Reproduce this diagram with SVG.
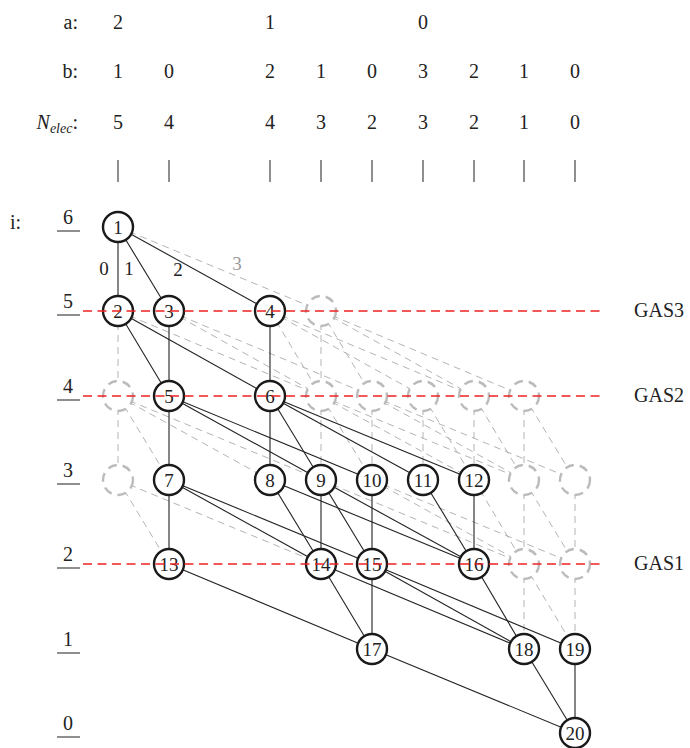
<svg xmlns="http://www.w3.org/2000/svg" width="690" height="748" viewBox="0 0 690 748">
  <style>
    text { font-family: "Liberation Serif", "DejaVu Serif", serif; font-size: 20px; fill: #222; }
    .c { text-anchor: middle; }
    .e { text-anchor: end; }
    .node { fill: #fff; stroke: #1a1a1a; stroke-width: 2.4; }
    .ghost { fill: #fff; stroke: #bbb; stroke-width: 2.4; stroke-dasharray: 9 6; }
    .arc { stroke: #222; stroke-width: 1.1; fill: none; }
    .garc { stroke: #b4b4b4; stroke-width: 1; fill: none; stroke-dasharray: 7 5; }
    .gas { stroke: #ee2222; stroke-width: 1.4; stroke-dasharray: 9 5.5; fill: none; }
    .tick { stroke: #444; stroke-width: 1.2; }
    .num { font-size: 19px; text-anchor: middle; }
  </style>

  <g font-family="'Liberation Serif', 'DejaVu Serif', serif">
  <!-- column header: a, b and electron count per column -->
  <g id="header">
    <text class="e" x="78" y="29">a:</text>
    <text class="e" x="78" y="78">b:</text>
    <text class="e" x="78" y="129"><tspan font-style="italic">N</tspan><tspan font-style="italic" font-size="14" dy="4">elec</tspan><tspan dy="-4">:</tspan></text>
    <text class="c" x="118" y="29">2</text>
    <text class="c" x="270" y="29">1</text>
    <text class="c" x="423" y="29">0</text>
    <text class="c" x="118" y="78">1</text>
    <text class="c" x="169" y="78">0</text>
    <text class="c" x="270" y="78">2</text>
    <text class="c" x="321" y="78">1</text>
    <text class="c" x="372" y="78">0</text>
    <text class="c" x="423" y="78">3</text>
    <text class="c" x="474" y="78">2</text>
    <text class="c" x="524" y="78">1</text>
    <text class="c" x="575" y="78">0</text>
    <text class="c" x="118" y="129">5</text>
    <text class="c" x="169" y="129">4</text>
    <text class="c" x="270" y="129">4</text>
    <text class="c" x="321" y="129">3</text>
    <text class="c" x="372" y="129">2</text>
    <text class="c" x="423" y="129">3</text>
    <text class="c" x="474" y="129">2</text>
    <text class="c" x="524" y="129">1</text>
    <text class="c" x="575" y="129">0</text>
    <g class="tick">
      <line x1="118" y1="160" x2="118" y2="182"/>
      <line x1="169" y1="160" x2="169" y2="182"/>
      <line x1="270" y1="160" x2="270" y2="182"/>
      <line x1="321" y1="160" x2="321" y2="182"/>
      <line x1="372" y1="160" x2="372" y2="182"/>
      <line x1="423" y1="160" x2="423" y2="182"/>
      <line x1="474" y1="160" x2="474" y2="182"/>
      <line x1="524" y1="160" x2="524" y2="182"/>
      <line x1="575" y1="160" x2="575" y2="182"/>
    </g>
  </g>

  <!-- orbital level labels -->
  <g id="levels">
    <text x="10" y="229">i:</text>
    <text class="c" x="68" y="224">6</text>
    <text class="c" x="68" y="308">5</text>
    <text class="c" x="68" y="393">4</text>
    <text class="c" x="68" y="477">3</text>
    <text class="c" x="68" y="561">2</text>
    <text class="c" x="68" y="646">1</text>
    <text class="c" x="68" y="730">0</text>
    <g class="tick">
      <line x1="57" y1="231" x2="80" y2="231"/>
      <line x1="57" y1="315" x2="80" y2="315"/>
      <line x1="57" y1="400" x2="80" y2="400"/>
      <line x1="57" y1="484" x2="80" y2="484"/>
      <line x1="57" y1="568" x2="80" y2="568"/>
      <line x1="57" y1="653" x2="80" y2="653"/>
      <line x1="57" y1="737" x2="80" y2="737"/>
    </g>
  </g>

  <g id="connectors">
    <!-- arcs touching excluded vertices -->
    <g class="garc">
      <line x1="118" y1="227" x2="321" y2="311"/>
      <line x1="118" y1="311" x2="118" y2="396"/>
      <line x1="118" y1="311" x2="321" y2="396"/>
      <line x1="169" y1="311" x2="321" y2="396"/>
      <line x1="169" y1="311" x2="372" y2="396"/>
      <line x1="270" y1="311" x2="321" y2="396"/>
      <line x1="270" y1="311" x2="423" y2="396"/>
      <line x1="270" y1="311" x2="474" y2="396"/>
      <line x1="321" y1="311" x2="321" y2="396"/>
      <line x1="321" y1="311" x2="372" y2="396"/>
      <line x1="321" y1="311" x2="474" y2="396"/>
      <line x1="321" y1="311" x2="524" y2="396"/>
      <line x1="118" y1="396" x2="118" y2="480"/>
      <line x1="118" y1="396" x2="169" y2="480"/>
      <line x1="118" y1="396" x2="270" y2="480"/>
      <line x1="118" y1="396" x2="321" y2="480"/>
      <line x1="321" y1="396" x2="321" y2="480"/>
      <line x1="321" y1="396" x2="372" y2="480"/>
      <line x1="321" y1="396" x2="474" y2="480"/>
      <line x1="321" y1="396" x2="524" y2="480"/>
      <line x1="372" y1="396" x2="372" y2="480"/>
      <line x1="372" y1="396" x2="524" y2="480"/>
      <line x1="372" y1="396" x2="575" y2="480"/>
      <line x1="423" y1="396" x2="423" y2="480"/>
      <line x1="423" y1="396" x2="474" y2="480"/>
      <line x1="474" y1="396" x2="474" y2="480"/>
      <line x1="474" y1="396" x2="524" y2="480"/>
      <line x1="524" y1="396" x2="524" y2="480"/>
      <line x1="524" y1="396" x2="575" y2="480"/>
      <line x1="118" y1="480" x2="169" y2="564"/>
      <line x1="118" y1="480" x2="321" y2="564"/>
      <line x1="321" y1="480" x2="524" y2="564"/>
      <line x1="372" y1="480" x2="524" y2="564"/>
      <line x1="372" y1="480" x2="575" y2="564"/>
      <line x1="474" y1="480" x2="524" y2="564"/>
      <line x1="524" y1="480" x2="524" y2="564"/>
      <line x1="524" y1="480" x2="575" y2="564"/>
      <line x1="575" y1="480" x2="575" y2="564"/>
      <line x1="524" y1="564" x2="524" y2="649"/>
      <line x1="524" y1="564" x2="575" y2="649"/>
      <line x1="575" y1="564" x2="575" y2="649"/>
    </g>
    <!-- arcs between active vertices -->
    <g class="arc">
      <line x1="118" y1="227" x2="118" y2="311"/>
      <line x1="118" y1="227" x2="169" y2="311"/>
      <line x1="118" y1="227" x2="270" y2="311"/>
      <line x1="118" y1="311" x2="169" y2="396"/>
      <line x1="118" y1="311" x2="270" y2="396"/>
      <line x1="169" y1="311" x2="169" y2="396"/>
      <line x1="270" y1="311" x2="270" y2="396"/>
      <line x1="169" y1="396" x2="169" y2="480"/>
      <line x1="169" y1="396" x2="321" y2="480"/>
      <line x1="169" y1="396" x2="372" y2="480"/>
      <line x1="270" y1="396" x2="270" y2="480"/>
      <line x1="270" y1="396" x2="321" y2="480"/>
      <line x1="270" y1="396" x2="423" y2="480"/>
      <line x1="270" y1="396" x2="474" y2="480"/>
      <line x1="169" y1="480" x2="169" y2="564"/>
      <line x1="169" y1="480" x2="321" y2="564"/>
      <line x1="169" y1="480" x2="372" y2="564"/>
      <line x1="270" y1="480" x2="321" y2="564"/>
      <line x1="270" y1="480" x2="474" y2="564"/>
      <line x1="321" y1="480" x2="321" y2="564"/>
      <line x1="321" y1="480" x2="372" y2="564"/>
      <line x1="321" y1="480" x2="474" y2="564"/>
      <line x1="372" y1="480" x2="372" y2="564"/>
      <line x1="423" y1="480" x2="474" y2="564"/>
      <line x1="474" y1="480" x2="474" y2="564"/>
      <line x1="169" y1="564" x2="372" y2="649"/>
      <line x1="321" y1="564" x2="372" y2="649"/>
      <line x1="321" y1="564" x2="524" y2="649"/>
      <line x1="372" y1="564" x2="372" y2="649"/>
      <line x1="372" y1="564" x2="524" y2="649"/>
      <line x1="372" y1="564" x2="575" y2="649"/>
      <line x1="474" y1="564" x2="524" y2="649"/>
      <line x1="372" y1="649" x2="575" y2="733"/>
      <line x1="524" y1="649" x2="575" y2="733"/>
      <line x1="575" y1="649" x2="575" y2="733"/>
    </g>
    <!-- step labels on the arcs leaving vertex 1 -->
    <text x="104" y="275" class="num">0</text>
    <text x="129" y="275" class="num">1</text>
    <text x="178" y="276" class="num">2</text>
    <text x="237" y="270" class="num" style="fill:#999">3</text>
  </g>

  <!-- excluded vertices -->
  <g id="ghosts">
    <circle class="ghost" cx="321" cy="311" r="15"/>
    <circle class="ghost" cx="118" cy="396" r="15"/>
    <circle class="ghost" cx="321" cy="396" r="15"/>
    <circle class="ghost" cx="372" cy="396" r="15"/>
    <circle class="ghost" cx="423" cy="396" r="15"/>
    <circle class="ghost" cx="474" cy="396" r="15"/>
    <circle class="ghost" cx="524" cy="396" r="15"/>
    <circle class="ghost" cx="118" cy="480" r="15"/>
    <circle class="ghost" cx="524" cy="480" r="15"/>
    <circle class="ghost" cx="575" cy="480" r="15"/>
    <circle class="ghost" cx="524" cy="564" r="15"/>
    <circle class="ghost" cx="575" cy="564" r="15"/>
  </g>

  <g id="n1"><circle class="node" cx="118" cy="227" r="15"/><text class="num" x="118" y="234">1</text></g>
  <g id="n2"><circle class="node" cx="118" cy="311" r="15"/><text class="num" x="118" y="318">2</text></g>
  <g id="n3"><circle class="node" cx="169" cy="311" r="15"/><text class="num" x="169" y="318">3</text></g>
  <g id="n4"><circle class="node" cx="270" cy="311" r="15"/><text class="num" x="270" y="318">4</text></g>
  <g id="n5"><circle class="node" cx="169" cy="396" r="15"/><text class="num" x="169" y="403">5</text></g>
  <g id="n6"><circle class="node" cx="270" cy="396" r="15"/><text class="num" x="270" y="403">6</text></g>
  <g id="n7"><circle class="node" cx="169" cy="480" r="15"/><text class="num" x="169" y="487">7</text></g>
  <g id="n8"><circle class="node" cx="270" cy="480" r="15"/><text class="num" x="270" y="487">8</text></g>
  <g id="n9"><circle class="node" cx="321" cy="480" r="15"/><text class="num" x="321" y="487">9</text></g>
  <g id="n10"><circle class="node" cx="372" cy="480" r="15"/><text class="num" x="372" y="487">10</text></g>
  <g id="n11"><circle class="node" cx="423" cy="480" r="15"/><text class="num" x="423" y="487">11</text></g>
  <g id="n12"><circle class="node" cx="474" cy="480" r="15"/><text class="num" x="474" y="487">12</text></g>
  <g id="n13"><circle class="node" cx="169" cy="564" r="15"/><text class="num" x="169" y="571">13</text></g>
  <g id="n14"><circle class="node" cx="321" cy="564" r="15"/><text class="num" x="321" y="571">14</text></g>
  <g id="n15"><circle class="node" cx="372" cy="564" r="15"/><text class="num" x="372" y="571">15</text></g>
  <g id="n16"><circle class="node" cx="474" cy="564" r="15"/><text class="num" x="474" y="571">16</text></g>
  <g id="n17"><circle class="node" cx="372" cy="649" r="15"/><text class="num" x="372" y="656">17</text></g>
  <g id="n18"><circle class="node" cx="524" cy="649" r="15"/><text class="num" x="524" y="656">18</text></g>
  <g id="n19"><circle class="node" cx="575" cy="649" r="15"/><text class="num" x="575" y="656">19</text></g>
  <g id="n20"><circle class="node" cx="575" cy="733" r="15"/><text class="num" x="575" y="740">20</text></g>

  <!-- GAS boundaries -->
  <g id="gas">
    <line class="gas" x1="83" y1="311" x2="603" y2="311"/>
    <line class="gas" x1="83" y1="396" x2="603" y2="396"/>
    <line class="gas" x1="83" y1="564" x2="603" y2="564"/>
    <text x="634" y="317">GAS3</text>
    <text x="634" y="402">GAS2</text>
    <text x="634" y="570">GAS1</text>
  </g>
  </g>
</svg>
